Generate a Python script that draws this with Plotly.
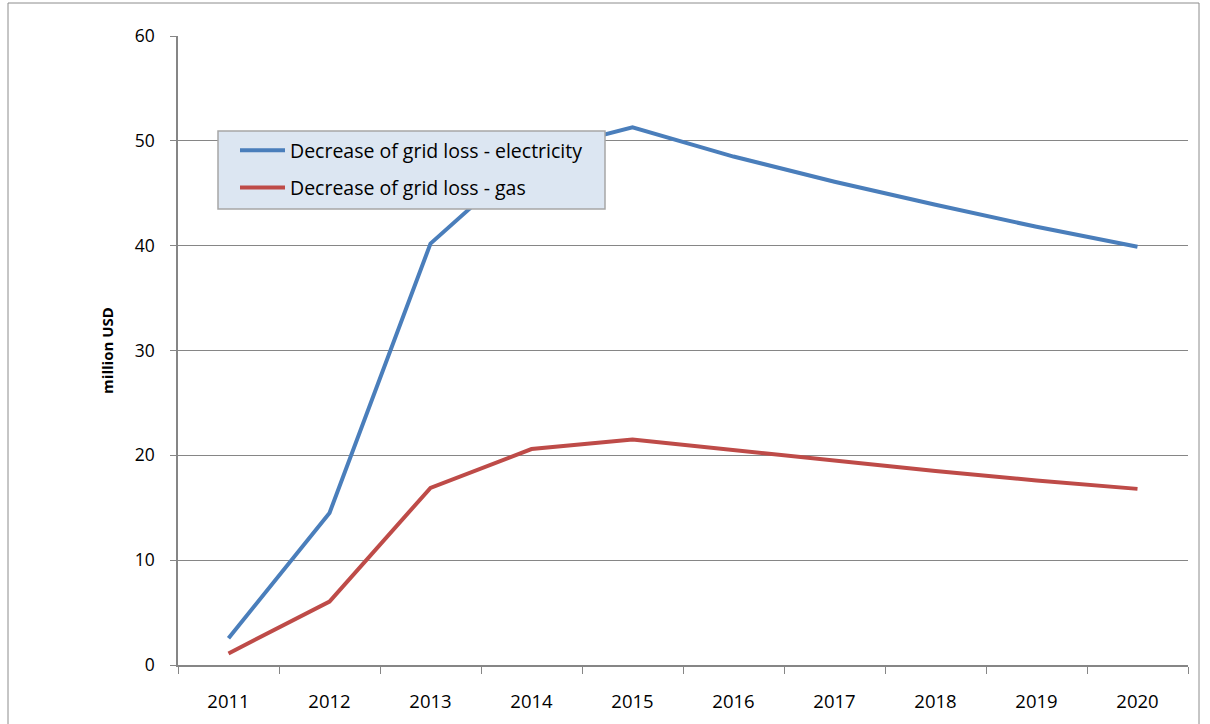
import plotly.graph_objects as go

years = ["2011", "2012", "2013", "2014", "2015", "2016", "2017", "2018", "2019", "2020"]
electricity = [2.55, 14.5, 40.2, 48.8, 51.3, 48.5, 46.1, 43.9, 41.8, 39.9]
gas = [1.1, 6.05, 16.9, 20.6, 21.5, 20.5, 19.5, 18.5, 17.6, 16.8]

names = ["Decrease of grid loss - electricity", "Decrease of grid loss - gas"]
colors = ["#4a7ebb", "#be4b48"]

fig = go.Figure()
for i, (name, vals, col) in enumerate(zip(names, [electricity, gas], colors)):
    fig.add_trace(go.Scatter(
        x=years, y=vals, mode="lines", name=name,
        line=dict(color=col, width=4),
        legendgroup=f"g{i}",
    ))

axis_grey = "#868686"
plot_w, plot_h = 1010, 629

# legend panel: a filled box drawn over the plot, legend entries on top of it
panel = dict(left=218 - 178, right=605 - 178, top=665 - 131, bottom=665 - 209)

fig.update_layout(
    width=1210, height=724,
    margin=dict(l=178, r=22, t=36, b=59),
    paper_bgcolor="white", plot_bgcolor="white",
    font=dict(family="Open Sans, sans-serif", color="#000000"),
    showlegend=True,
    legend=dict(
        x=panel["left"] / plot_w, y=panel["top"] / plot_h, xanchor="left", yanchor="top",
        bgcolor="rgba(0,0,0,0)", borderwidth=0,
        font=dict(size=19.5, family="Open Sans, sans-serif"),
        tracegroupgap=9,
        indentation=17,
        itemwidth=45,
    ),
    xaxis=dict(
        type="category",
        range=[-0.5, 9.5],
        showgrid=False,
        showline=True, linecolor=axis_grey, linewidth=1.5,
        ticks="outside", tickson="boundaries", ticklen=7, tickcolor=axis_grey, tickwidth=1,
        tickfont=dict(size=18.5, family="Open Sans, sans-serif"),
        ticklabelstandoff=19,
        zeroline=False,
    ),
    yaxis=dict(
        range=[0, 60], tickvals=[0, 10, 20, 30, 40, 50, 60],
        showgrid=True, gridcolor=axis_grey, gridwidth=1,
        showline=True, linecolor=axis_grey, linewidth=1.5,
        ticks="outside", ticklen=6, tickcolor=axis_grey, tickwidth=1,
        tickfont=dict(size=17.5, family="Open Sans, sans-serif"),
        ticklabelstandoff=12,
        zeroline=False,
        title=dict(text="<b>million USD</b>", font=dict(size=15, family="Open Sans, sans-serif"), standoff=17),
    ),
    shapes=[
        dict(
            type="rect", xref="paper", yref="paper",
            x0=-170 / plot_w, x1=1021 / plot_w, y0=-70 / plot_h, y1=662 / plot_h,
            line=dict(color="#8c8c8c", width=1), fillcolor="rgba(0,0,0,0)", layer="below",
        ),
        dict(
            type="rect", xref="paper", yref="paper",
            x0=panel["left"] / plot_w, x1=panel["right"] / plot_w,
            y0=panel["bottom"] / plot_h, y1=panel["top"] / plot_h,
            line=dict(color="#a6a6a6", width=1.5), fillcolor="#dce6f2", layer="above",
        ),
    ],
)

fig.write_html("out.html")
